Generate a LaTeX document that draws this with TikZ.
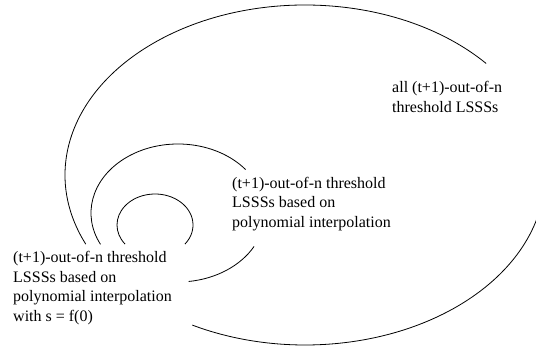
\documentclass[tikz,border=0pt]{standalone}
\usepackage{fontspec}
\setmainfont{Liberation Serif}

\tikzset{
  setlabel/.style={anchor=west, align=left, inner sep=0pt,
    font=\fontsize{16}{19.5}\selectfont},
  setline/.style={line width=0.8pt}
}

\begin{document}
\begin{tikzpicture}[x=1pt, y=1pt]

  \useasboundingbox (0,0) rectangle (536,347);

  % -- Outer set: all threshold schemes --
  \draw[setline] ([shift={(41:240 and 170)}]305,172)
    arc[start angle=41, end angle=204, x radius=240, y radius=170];
  \draw[setline] ([shift={(242:240 and 170)}]305,172)
    arc[start angle=242, end angle=350, x radius=240, y radius=170];

  % -- Middle set: polynomial interpolation --
  \draw[setline] ([shift={(39:87 and 69)}]178,134)
    arc[start angle=39, end angle=207, x radius=87, y radius=69];
  \draw[setline] ([shift={(-83:87 and 69)}]178,134)
    arc[start angle=-83, end angle=-29, x radius=87, y radius=69];

  % -- Inner set: s = f(0) --
  \draw[setline] ([shift={(-38:38 and 31)}]155,122)
    arc[start angle=-38, end angle=218, x radius=38, y radius=31];

  % Set labels
  \node[setlabel] (all) at (392,250) {all (t+1)-out-of-n\\threshold LSSSs};
  \node[setlabel] (poly) at (232,143) {(t+1)-out-of-n threshold\\LSSSs based on\\polynomial interpolation};
  \node[setlabel] (secret) at (13,59) {(t+1)-out-of-n threshold\\LSSSs based on\\polynomial interpolation\\with s = f(0)};

\end{tikzpicture}
\end{document}
